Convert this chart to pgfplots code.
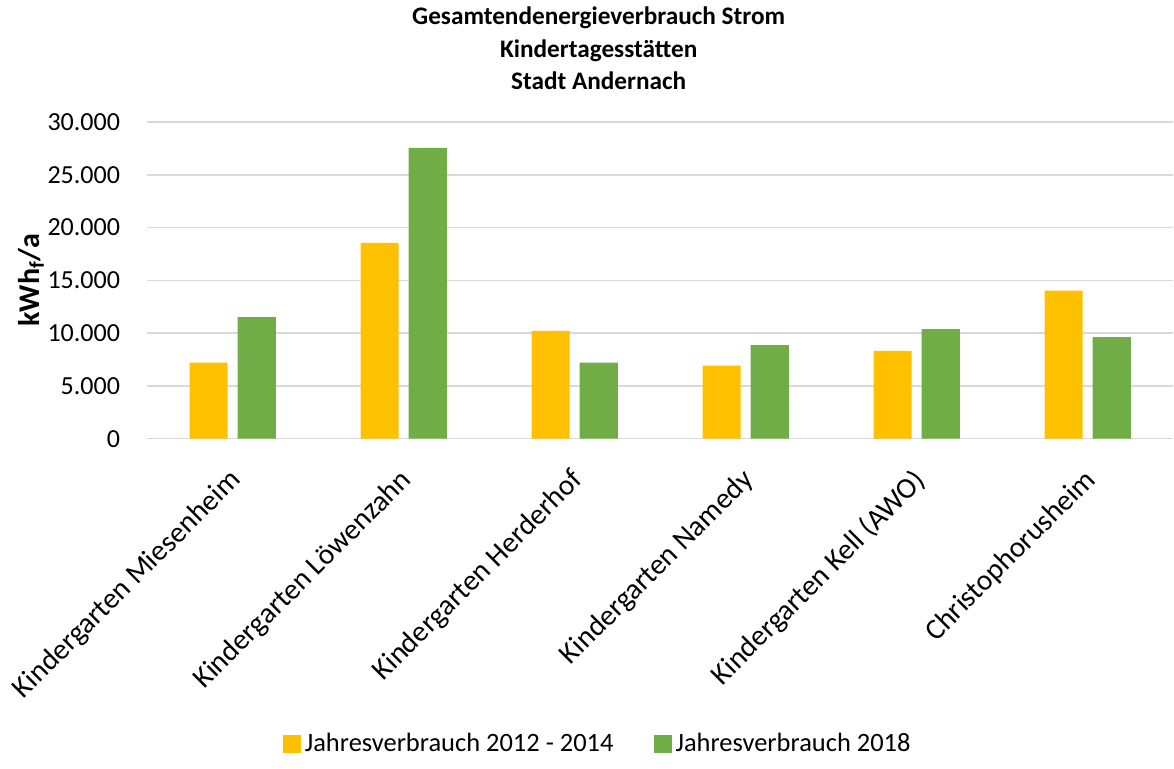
\documentclass[border=0pt]{standalone}
\usepackage{pgfplots}
\pgfplotsset{compat=1.18}
\usepackage{fontspec}
\setmainfont{Carlito}
\definecolor{cyel}{HTML}{FFC000}
\definecolor{cgrn}{HTML}{70AD47}
\definecolor{cgrid}{HTML}{D9D9D9}
\begin{document}
\begin{tikzpicture}
\begin{axis}[
  scale only axis,
  width=512pt, height=158pt,
  ybar, bar width=19pt,
  ybar=5pt,
  xmin=-0.5, xmax=5.5,
  ymin=0, ymax=30000,
  ytick={0,5000,...,30000},
  xtick=data,
  xticklabels={Kindergarten Miesenheim,Kindergarten Löwenzahn,Kindergarten Herderhof,Kindergarten Namedy,Kindergarten Kell (AWO),Christophorusheim},
  x tick label style={rotate=45, anchor=north east, font=\fontsize{14.6}{16}\selectfont, xshift=-8.4pt, yshift=-4.6pt},
  y tick label style={font=\fontsize{13}{15}\selectfont, xshift=-10pt},
  /pgf/number format/.cd, assume math mode=true, use comma, 1000 sep={.},
  /pgfplots/.cd,
  scaled y ticks=false,
  major tick length=0pt,
  axis line style={draw=none},
  ymajorgrids, grid style={cgrid, line width=0.8pt},
  ylabel={\textbf{kWh\textsubscript{f}/a}},
  ylabel style={font=\fontsize{15}{16}\selectfont, at={(rel axis cs:0,0.5)}, anchor=center, yshift=58pt},
  title={Gesamtendenergieverbrauch Strom\\Kindertagesstätten\\Stadt Andernach},
  title style={align=center, font=\bfseries\fontsize{12.6}{16.3}\selectfont, at={(0.44,1)}, anchor=south, yshift=6.5pt},
  legend style={at={(0.44,-0.965)}, anchor=center, draw=none, inner ysep=5pt, legend columns=2, font=\fontsize{13.2}{15}\selectfont, /tikz/every even column/.append style={column sep=18pt}},
  legend image code/.code={\fill[#1] (0pt,-4.5pt) rectangle (9pt,4.5pt);},
]
\addplot[fill=cyel, draw=none] coordinates {(0,7210) (1,18540) (2,10220) (3,6930) (4,8320) (5,14020)};
\addplot[fill=cgrn, draw=none] coordinates {(0,11520) (1,27560) (2,7210) (3,8860) (4,10380) (5,9620)};
\legend{Jahresverbrauch 2012 - 2014, Jahresverbrauch 2018}
\end{axis}
\end{tikzpicture}
\end{document}
